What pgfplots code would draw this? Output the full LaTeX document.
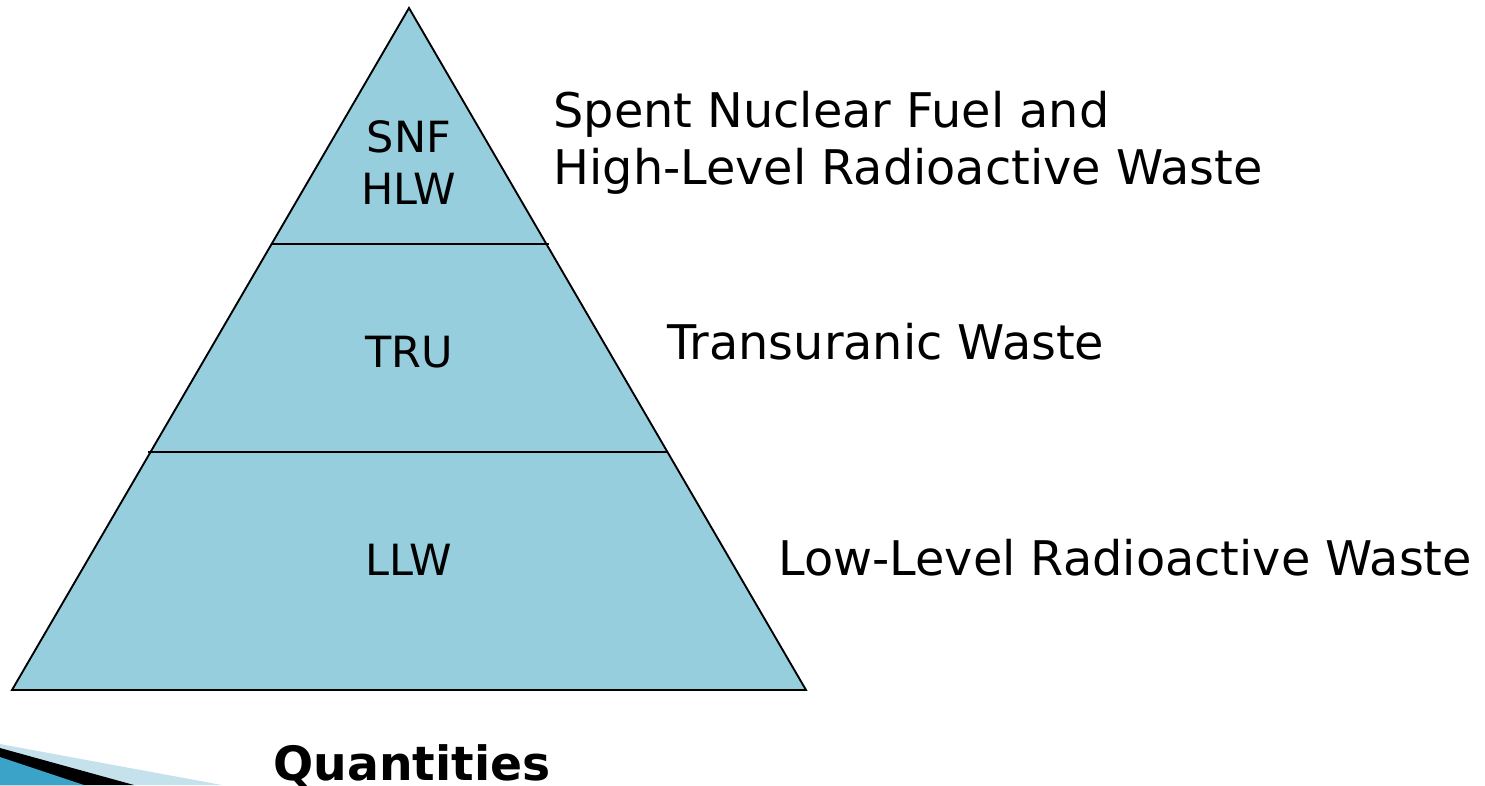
\documentclass[border=0pt]{standalone}
\usepackage{pgfplots}
\pgfplotsset{compat=1.18}
\usepackage{fontspec}
\setmainfont{DejaVu Sans}
\definecolor{pyr}{RGB}{151,206,221}
\definecolor{lightband}{RGB}{197,226,236}
\definecolor{deepblue}{RGB}{59,163,200}
\begin{document}
\begin{tikzpicture}
\begin{axis}[
  width=594pt, height=314pt, scale only axis,
  xmin=0, xmax=1485, ymin=0, ymax=785, y dir=reverse,
  axis lines=none, ticks=none, clip=true,
]
% pyramid
\addplot[fill=pyr, draw=black, line width=0.75pt] coordinates {(12,690) (409,8) (806,690) (12,690)} -- cycle;
% dividers
\addplot[black, line width=0.9pt] coordinates {(272,244) (549,244)};
\addplot[black, line width=0.9pt] coordinates {(148,452) (667,452)};
% decorative wedge
\addplot[fill=lightband, draw=none] coordinates {(0,744) (222,785) (0,785)} -- cycle;
\addplot[fill=black, draw=none] coordinates {(0,748) (134,785) (0,785)} -- cycle;
\addplot[fill=deepblue, draw=none] coordinates {(0,757) (84,785) (0,785)} -- cycle;
% inner labels
\node[anchor=base, font=\fontsize{17.2}{20}\selectfont] at (axis cs:409,153) {SNF};
\node[anchor=base, font=\fontsize{17.2}{20}\selectfont] at (axis cs:409,205) {HLW};
\node[anchor=base, font=\fontsize{17.2}{20}\selectfont] at (axis cs:409,367) {TRU};
\node[anchor=base, font=\fontsize{17.2}{20}\selectfont] at (axis cs:409,575) {LLW};
% right labels
\node[anchor=base west, inner sep=0pt, font=\fontsize{19.1}{22}\selectfont] at (axis cs:553,128) {Spent Nuclear Fuel and};
\node[anchor=base west, inner sep=0pt, font=\fontsize{19.1}{22}\selectfont] at (axis cs:553,185) {High-Level Radioactive Waste};
\node[anchor=base west, inner sep=0pt, font=\fontsize{19.1}{22}\selectfont] at (axis cs:667,359) {Transuranic Waste};
\node[anchor=base west, inner sep=0pt, font=\fontsize{19.1}{22}\selectfont] at (axis cs:778,575) {Low-Level Radioactive Waste};
% bottom title
\node[anchor=base west, inner sep=0pt, font=\fontsize{18.9}{22}\selectfont\bfseries] at (axis cs:273,780) {Quantities};
\end{axis}
\pgfresetboundingbox
\useasboundingbox (current axis.south west) rectangle (current axis.north east);
\end{tikzpicture}
\end{document}
